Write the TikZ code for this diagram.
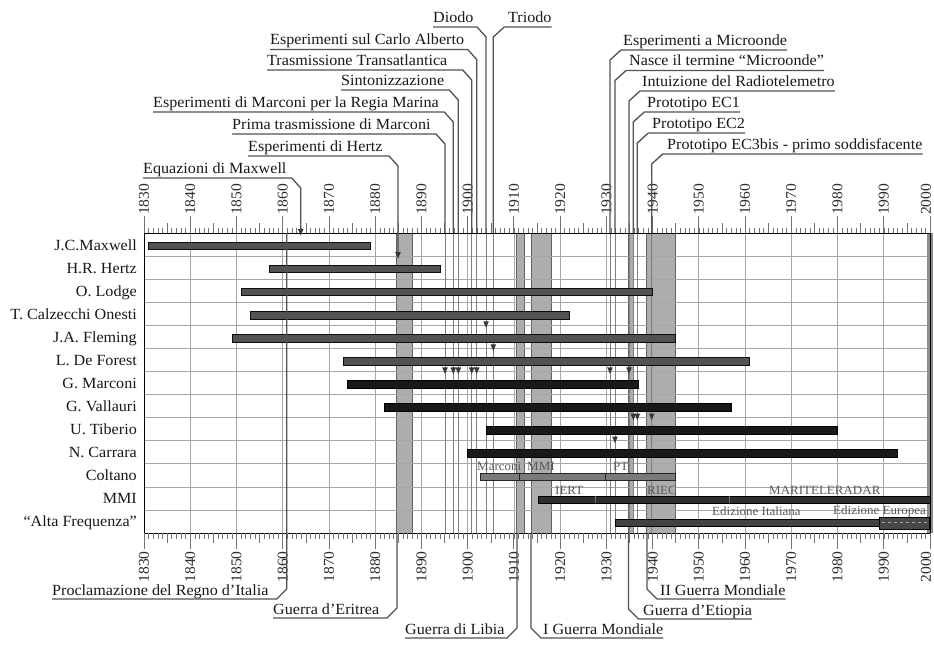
\documentclass[tikz,border=0pt]{standalone}
\usepackage{fontspec}
\setmainfont{Liberation Serif}[FakeStretch=1.04]
\pgfmathdeclarefunction{yr}{1}{\pgfmathparse{144+(#1-1830)*4.6235}}
\pgfmathdeclarefunction{rt}{1}{\pgfmathparse{233+23.077*#1}}
% top leader, vertical to the right of the text
\newcommand\TL[6]{%
  \node[lbl, anchor=base west] (#1) at (#2,#3-5) {#6};
  \coordinate (#1b) at (#4-9,#3);
  \coordinate (#1c) at (#4,#3+10);
  \coordinate (#1d) at (#4,#5);
  \draw[lead] (#1b -| #1.west) -- (#1b) -- (#1c) -- (#1d);
}
% top leader, vertical to the left of the text
\newcommand\TR[6]{%
  \node[lbl, anchor=base west] (#1) at (#2,#3-5) {#6};
  \coordinate (#1b) at (#4+11,#3);
  \coordinate (#1c) at (#4,#3+10);
  \coordinate (#1d) at (#4,#5);
  \draw[lead] (#1b -| #1.east) -- (#1b) -- (#1c) -- (#1d);
}
% bottom leader, vertical to the right of the text
\newcommand\BL[6]{%
  \node[lbl, anchor=base west] (#1) at (#2,#3-4) {#6};
  \coordinate (#1b) at (#4-10,#3);
  \coordinate (#1c) at (#4,#3-10);
  \coordinate (#1d) at (#4,#5);
  \draw[lead] (#1b -| #1.west) -- (#1b) -- (#1c) -- (#1d);
}
% bottom leader, vertical to the left of the text
\newcommand\BR[6]{%
  \node[lbl, anchor=base west] (#1) at (#2,#3-4) {#6};
  \coordinate (#1b) at (#4+10,#3);
  \coordinate (#1c) at (#4,#3-10);
  \coordinate (#1d) at (#4,#5);
  \draw[lead] (#1b -| #1.east) -- (#1b) -- (#1c) -- (#1d);
}
\begin{document}
\begin{tikzpicture}[x=1pt,y=-1pt,
 lbl/.style={font=\fontsize{15.5}{18}\selectfont, text=black!90, inner sep=0pt},
 small/.style={font=\fontsize{12.5}{14}\selectfont, text=black!65, inner sep=0pt},
 yl/.style={font=\fontsize{15}{17}\selectfont, text=black!82, inner sep=0pt, rotate=90},
 lead/.style={draw=black!68, line width=1.3pt},
 evl/.style={draw=black!50, line width=0.8pt},
 gridl/.style={draw=black!35, line width=0.7pt},
 band/.style={fill=black!32, draw=black!62, line width=0.9pt},
 pbar/.style={fill=black!68, draw=black!95, line width=0.6pt},
 kbar/.style={fill=black!90, draw=black, line width=0.6pt},
 tk/.style={draw=black!55, line width=0.5pt},
 arrowmk/.style={fill=black!78}
]
\useasboundingbox (0,0) rectangle (934,656);
\fill[white] (0,0) rectangle (934,656);

% war bands
\foreach \a/\b in {396.7/412.3, 516.7/524, 531.7/551.7, 628.5/633, 646.7/675.7}
  \filldraw[band] (\a,233) rectangle (\b,533);

% grid
\foreach \y in {1840,1850,...,1990} \draw[gridl] ({yr(\y)},233) -- ({yr(\y)},533);
\foreach \k in {1,...,12} \draw[gridl] (144,{rt(\k)}) -- (930,{rt(\k)});

% event lines inside the chart
\foreach \x in {445,453.3,458.3,471.7,476.7,486,493.3,610,615,629,633.3,637.3,651.7}
  \draw[evl] (\x,233) -- (\x,533);

% right edge
\fill[black!45] (926.5,233) rectangle (932.5,533);

% person bars
\foreach \s/\e/\k/\st in {1831/1879/0/pbar, 1857/1894/1/pbar, 1851/1940/2/pbar,
  1853/1922/3/pbar, 1849/1945/4/pbar, 1873/1961/5/pbar, 1874/1937/6/kbar,
  1882/1957/7/kbar, 1904/1980/8/kbar, 1900/1993/9/kbar}
  \filldraw[\st] ({yr(\s)},{rt(\k)+12.8-3.8}) rectangle ({yr(\e)},{rt(\k)+12.8+3.8});

% Coltano
\filldraw[fill=black!52, draw=black!85, line width=0.6pt] (480,{rt(10)+12.8-3.6}) rectangle (675,{rt(10)+12.8+3.6});
\foreach \x in {519,605.7} \draw[black!85, line width=0.8pt] (\x,{rt(10)+12.8-3.6}) -- (\x,{rt(10)+12.8+3.6});
% MMI
\filldraw[fill=black!82, draw=black, line width=0.6pt] (538.3,{rt(11)+12.8-3.5}) rectangle (930,{rt(11)+12.8+3.5});
\foreach \x in {595,729.3} \draw[black!55, line width=0.8pt] (\x,{rt(11)+12.8-3.5}) -- (\x,{rt(11)+12.8+3.5});
% Alta Frequenza
\filldraw[fill=black!74, draw=black, line width=0.6pt] (615,{rt(12)+12.8-3.8}) rectangle (930,{rt(12)+12.8+3.8});
\filldraw[fill=black!72, draw=black, line width=0.6pt] (879.5,517.5) rectangle (929.5,529.5);
\draw[black!35, dashed, line width=0.5pt] (882,522) -- (927,522);

% small labels
\node[small, anchor=base west] (s1) at (477,470) {Marconi};
\node[small, anchor=base west] (s2) at (527,470) {MMI};
\node[small, anchor=base west] (s3) at (613,470) {PT};
\node[small, anchor=base west] (s4) at (555,494) {IERT};
\node[small, anchor=base west] (s5) at (647,494) {RIEC};
\node[small, anchor=base west] (s6) at (769,494) {MARITELERADAR};
\node[small, anchor=base west] (s7) at (712,515) {Edizione Italiana};
\node[small, anchor=base west] (s8) at (833,514) {Edizione Europea};

% frame
\draw[black, line width=1pt] (144,233) rectangle (930,533);

% ticks and year labels
\foreach \y in {1830,...,2000} {
  \draw[tk] ({yr(\y)},227.5) -- ({yr(\y)},233);
  \draw[tk] ({yr(\y)},533) -- ({yr(\y)},538.5);
}
\foreach \y in {1835,1845,...,1995} {
  \draw[tk] ({yr(\y)},223) -- ({yr(\y)},233);
  \draw[tk] ({yr(\y)},533) -- ({yr(\y)},543);
}
\foreach \y in {1830,1840,...,2000} {
  \draw[tk, line width=0.8pt] ({yr(\y)},216) -- ({yr(\y)},233);
  \draw[tk, line width=0.8pt] ({yr(\y)},533) -- ({yr(\y)},549);
}
\foreach \y in {1830,1840,...,1990} {
  \node[yl, anchor=west] (t\y) at ({yr(\y)},215) {\y};
  \node[yl, anchor=east] (b\y) at ({yr(\y)},551) {\y};
}
\node[yl, anchor=west] (t2000) at (926,215) {2000};
\node[yl, anchor=east] (b2000) at (926,551) {2000};

% row names
\foreach \nm [count=\k from 0] in {J.C.Maxwell, H.R. Hertz, O. Lodge, T. Calzecchi Onesti,
  J.A. Fleming, L. De Forest, G. Marconi, G. Vallauri, U. Tiberio, N. Carrara, Coltano, MMI,
  “Alta Frequenza”}
  \node[lbl, anchor=base east] (n\k) at (137,{rt(\k)+11.54+5.5}) {\nm};

% top event labels
\TL{eqm}{143}{178}{300.7}{233}{Equazioni di Maxwell}
\TL{hz}{248}{156}{398}{253}{Esperimenti di Hertz}
\TL{pt1}{232}{134}{445}{233}{Prima trasmissione di Marconi}
\TL{rm}{153}{112}{453.3}{233}{Esperimenti di Marconi per la Regia Marina}
\TL{sz}{341}{90}{458.3}{233}{Sintonizzazione}
\TL{tt}{267}{70}{471.7}{233}{Trasmissione Transatlantica}
\TL{ca}{270}{49.5}{476.7}{233}{Esperimenti sul Carlo Alberto}
\TL{di}{433}{27}{486}{233}{Diodo}
\TR{tr}{508}{27}{493.3}{233}{Triodo}
\TR{mo}{623}{50}{610}{233}{Esperimenti a Microonde}
\TR{nt}{629}{70.5}{615}{233}{Nasce il termine “Microonde”}
\TR{ir}{642}{91}{629}{233}{Intuizione del Radiotelemetro}
\TR{ec1}{647}{112}{633.3}{233}{Prototipo EC1}
\TR{ec2}{652}{133}{637.3}{233}{Prototipo EC2}
\TR{ec3}{667}{154}{651.7}{233}{Prototipo EC3bis - primo soddisfacente}

% arrow marks
\foreach \x/\k in {300.7/0, 398/1, 445/6, 453.3/6, 458.3/6, 471.7/6, 476.7/6, 486/4,
  493.3/5, 610/6, 629/6, 615/9, 633.3/8, 637.3/8, 651.7/8}
  \fill[arrowmk] (\x-2.8,{rt(\k)-4}) -- (\x+2.8,{rt(\k)-4}) -- (\x,{rt(\k)+2.5}) -- cycle;

% bottom event labels
\BL{pr}{52}{599}{286.7}{233}{Proclamazione del Regno d’Italia}
\BL{er}{273}{618}{397}{533}{Guerra d’Eritrea}
\BL{li}{405}{638}{517}{533}{Guerra di Libia}
\BR{gm1}{543}{638}{531}{533}{I Guerra Mondiale}
\BR{et}{643}{619}{628.5}{533}{Guerra d’Etiopia}
\BR{gm2}{660}{599}{647}{533}{II Guerra Mondiale}
\end{tikzpicture}
\end{document}
